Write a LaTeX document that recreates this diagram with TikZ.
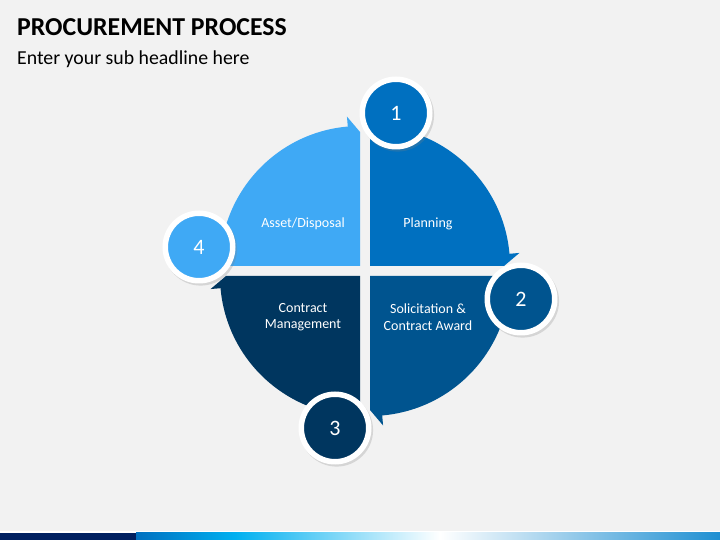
\documentclass[tikz,border=0pt]{standalone}
\usepackage{fontspec}
\setmainfont{Carlito}
\usetikzlibrary{positioning}
\usetikzlibrary{shadows}

\definecolor{bggray}{HTML}{F2F2F2}
\definecolor{planblue}{HTML}{0070C0}
\definecolor{solblue}{HTML}{00548F}
\definecolor{contblue}{HTML}{00365F}
\definecolor{assetblue}{HTML}{3FA9F5}
\definecolor{barnavy}{HTML}{002060}
\definecolor{barcyan}{HTML}{00B0F0}
\definecolor{barend}{HTML}{1E8FD2}

\tikzset{
  steplabel/.style={text=white, align=center, font=\fontsize{14}{16.5}\selectfont},
  numcircle/.style={circle, draw=white, line width=5.5pt, minimum size=67.5pt,
    text=white, font=\fontsize{22}{26}\selectfont,
    drop shadow={shadow xshift=1.5pt, shadow yshift=-2pt, shadow scale=1.08, opacity=0.25}},
}

% one quarter of the wheel with its barb
\newcommand{\quadarrow}[3]{%
  \begin{scope}[shift={#1}, rotate=#2]
    \fill[#3] (0,0) -- (90:140pt) arc[start angle=90, end angle=5, radius=140pt]
      -- (5:150pt) -- (0:134pt) -- cycle;
  \end{scope}}

\begin{document}
\begin{tikzpicture}[x=1pt, y=1pt]
\fill[bggray] (0,0) rectangle (720,540);

% heading
\node[anchor=base west, inner sep=0, font=\fontsize{25.8}{30}\selectfont\bfseries] (title) at (17,504) {PROCUREMENT PROCESS};
\node[anchor=base west, inner sep=0, font=\fontsize{19.8}{23}\selectfont] (subtitle) at (17,475) {Enter your sub headline here};

% wheel
\quadarrow{(370,274)}{0}{planblue}
\quadarrow{(370,264)}{-90}{solblue}
\quadarrow{(360,264)}{-180}{contblue}
\quadarrow{(360,274)}{90}{assetblue}

\coordinate (ctr) at (365,269);
\node[steplabel] (planning) at (428,316) {Planning};
\node[steplabel] (asset) at (303,316) {Asset/Disposal};
\node[steplabel] (contract) at (303,223) {Contract\\Management};
\node[steplabel] (solicit) at (428,223) {Solicitation \&\\Contract Award};

% numbers
\node[numcircle, fill=planblue] (n1) at (396,427) {1};
\node[numcircle, fill=solblue] (n2) at (521,241) {2};
\node[numcircle, fill=contblue] (n3) at (335,112) {3};
\node[numcircle, fill=assetblue] (n4) at (199,293) {4};

% bottom bar
\fill[white] (0,7) rectangle (720,8.5);
\fill[barnavy] (0,0) rectangle (136,7);
\shade[left color=planblue, right color=barcyan] (136,0) rectangle (235,7);
\shade[left color=barcyan, right color=white] (235,0) rectangle (440,7);
\shade[left color=white, right color=barend] (440,0) rectangle (720,7);
\end{tikzpicture}
\end{document}
